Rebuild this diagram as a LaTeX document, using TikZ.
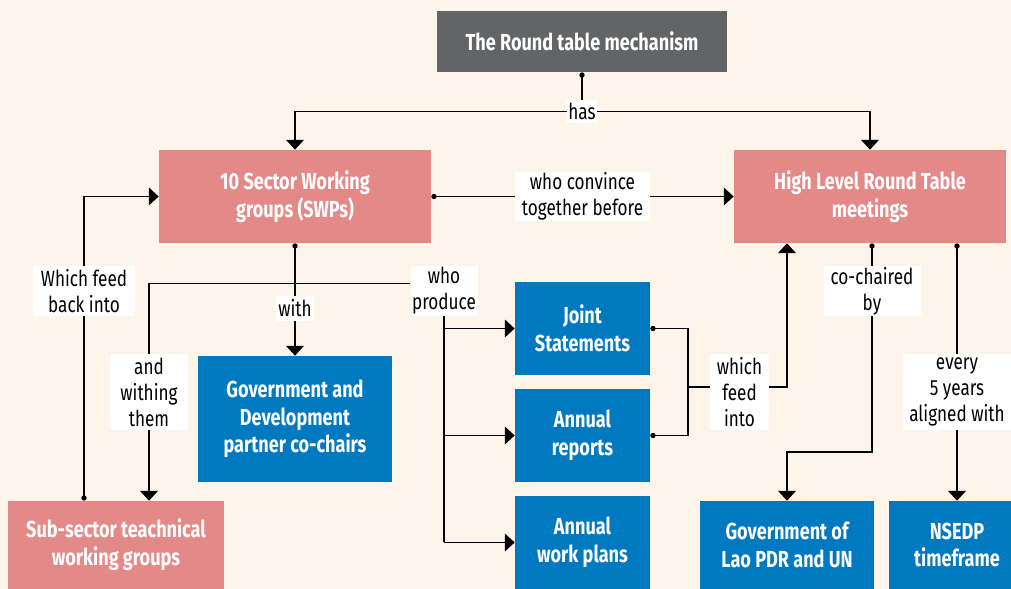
\documentclass[tikz,border=0pt]{standalone}
\usepackage{fontspec}
\setmainfont[FakeStretch=0.78]{Fira Sans}
\usetikzlibrary{arrows.meta}

\definecolor{cream}{HTML}{FDF5EA}
\definecolor{rose}{HTML}{E38A89}
\definecolor{ocean}{HTML}{0079C1}
\definecolor{slate}{HTML}{636466}

\begin{document}
\begin{tikzpicture}
            [box/.style={rectangle, inner sep=0pt, align=center, text=white,
              font=\fontsize{13.2}{15.8}\selectfont\bfseries},
            graybox/.style={box, fill=slate},
            pinkbox/.style={box, fill=rose},
            bluebox/.style={box, fill=ocean},
            lbl/.style={fill=white, inner sep=0pt, align=center,
              font=\fontsize{12.5}{14.8}\selectfont},
            link/.style={line width=0.6pt, black},
            arr/.style={link, -{Triangle[width=10pt,length=5.5pt]}},
            dotline/.style={link, {Circle[length=3pt]}-}]

            \clip (0,0) rectangle (20.22,11.78);
            \fill[cream] (0,0) rectangle (20.22,11.78);

            % boxes
            \node[graybox, minimum width=5.8cm, minimum height=1.22cm] (title) at (11.64,10.95) {The Round table mechanism};
            \node[pinkbox, minimum width=5.44cm, minimum height=1.86cm] (swg) at (5.9,7.85) {10 Sector Working\\groups (SWPs)};
            \node[pinkbox, minimum width=5.44cm, minimum height=1.86cm] (hlrt) at (17.4,7.85) {High Level Round Table\\meetings};
            \node[bluebox, minimum width=3.88cm, minimum height=2.52cm] (govdev) at (5.9,3.4) {Government and\\Development\\partner co-chairs};
            \node[bluebox, minimum width=2.7cm, minimum height=1.86cm] (joint) at (11.65,5.21) {Joint\\Statements};
            \node[bluebox, minimum width=2.7cm, minimum height=1.86cm] (annrep) at (11.65,3.07) {Annual\\reports};
            \node[bluebox, minimum width=2.7cm, minimum height=1.86cm] (annwp) at (11.65,0.93) {Annual\\work plans};
            \node[pinkbox, minimum width=4.32cm, minimum height=1.76cm] (subsec) at (2.32,0.88) {Sub-sector teachnical\\working groups};
            \node[bluebox, minimum width=3.48cm, minimum height=1.76cm] (govlao) at (15.74,0.88) {Government of\\Lao PDR and UN};
            \node[bluebox, minimum width=2.72cm, minimum height=1.76cm] (nsedp) at (19.14,0.88) {NSEDP\\timeframe};

            % labels
            \node[lbl, minimum width=0.6cm, minimum height=0.46cm] (has) at (11.64,9.55) {has};
            \node[lbl, minimum width=2.7cm, minimum height=0.98cm] (convince) at (11.65,7.85) {who convince\\together before};
            \node[lbl, minimum width=0.76cm, minimum height=0.5cm] (with) at (5.9,5.61) {with};
            \node[lbl, minimum width=2.02cm, minimum height=1.0cm] (feedback) at (1.68,5.96) {Which feed\\back into};
            \node[lbl, minimum width=1.34cm, minimum height=1.0cm] (produce) at (8.88,5.96) {who\\produce};
            \node[lbl, minimum width=1.56cm, minimum height=1.52cm] (withing) at (2.98,3.94) {and\\withing\\them};
            \node[lbl, minimum width=1.18cm, minimum height=1.52cm] (feedinto) at (14.79,3.94) {which\\feed\\into};
            \node[lbl, minimum width=1.94cm, minimum height=1.0cm] (cochair) at (17.44,5.96) {co-chaired\\by};
            \node[lbl, minimum width=2.16cm, minimum height=1.52cm] (every) at (19.14,3.94) {every\\5 years\\aligned with};

            \coordinate (merge) at (13.76,4.04);

            % connectors
            \draw[dotline] (title.south) -- (has.north);
            \draw[arr] (has.west) -| (swg.north);
            \draw[arr] (has.east) -| (hlrt.north);

            \draw[dotline] (swg.east) -- (convince.west);
            \draw[arr] (convince.east) -- (hlrt.west);

            \draw[dotline] (swg.south) -- (with.north);
            \draw[arr] (with.south) -- (govdev.north);

            \draw[link] ([yshift=4.5pt]produce.west) -| (withing.north);
            \draw[arr] (withing.south) -- (withing.south |- subsec.north);

            \draw[link] (produce.south) -- (produce.south |- annwp.west);
            \draw[arr] (produce.south |- joint.west) -- (joint.west);
            \draw[arr] (produce.south |- annrep.west) -- (annrep.west);
            \draw[arr] (produce.south |- annwp.west) -- (annwp.west);

            \draw[dotline] (feedback.south |- subsec.north) -- (feedback.south);
            \draw[arr] (feedback.north) |- (swg.west);

            \draw[dotline] (joint.east) -| (merge);
            \draw[dotline] (annrep.east) -| (merge);
            \draw[link] (merge) -- (feedinto.west |- merge);
            \draw[arr] (feedinto.east |- merge) -| (hlrt.south -| govlao.north);

            \draw[dotline] (cochair.north |- hlrt.south) -- (cochair.north);
            \draw[arr] (cochair.south) -- (cochair.south |- 0,2.74) -| (govlao.north);

            \draw[dotline] (every.north |- hlrt.south) -- (every.north);
            \draw[arr] (every.south) -- (nsedp.north);

        \end{tikzpicture}
\end{document}
